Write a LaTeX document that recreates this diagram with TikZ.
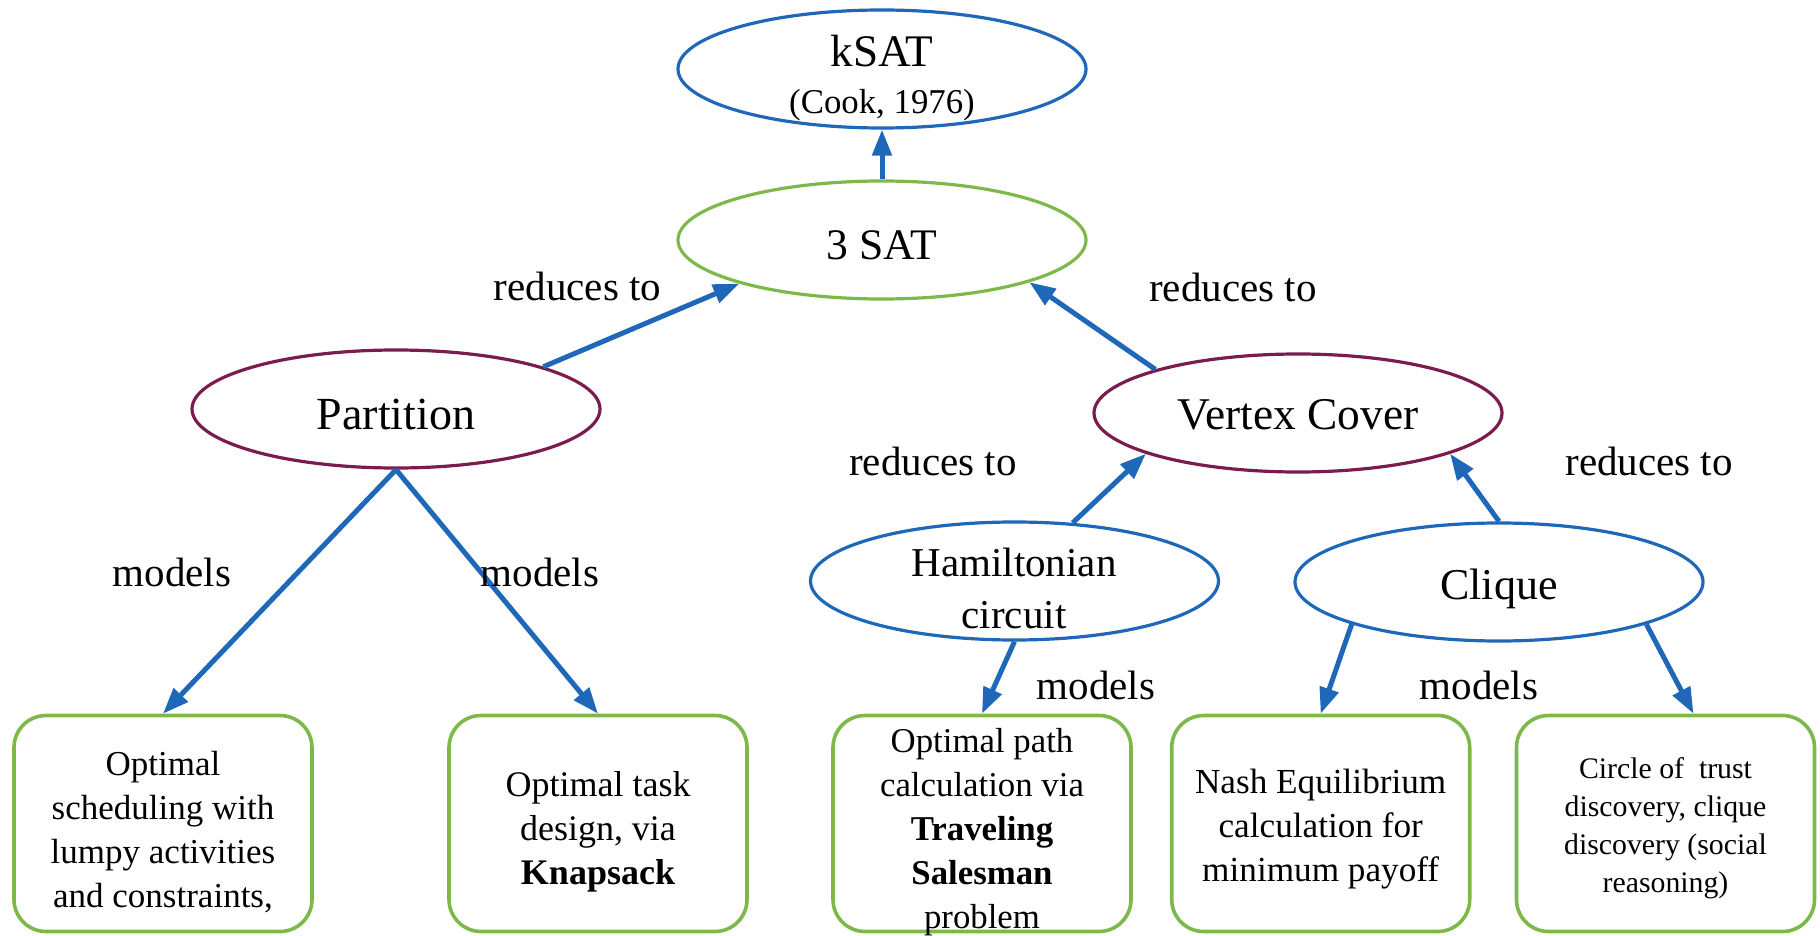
\documentclass[tikz,border=0pt]{standalone}
\usepackage{fontspec}
\setmainfont{Liberation Serif}
\usetikzlibrary{shapes.geometric,arrows.meta,calc}
\definecolor{cblue}{RGB}{31,103,185}
\definecolor{cgreen}{RGB}{124,184,74}
\definecolor{cmaroon}{RGB}{122,28,78}
\begin{document}
\begin{tikzpicture}[x=0.5pt,y=-0.5pt,
  ell/.style={ellipse,draw,line width=1.6pt,inner sep=0pt,minimum width=204pt,minimum height=59pt},
  etext/.style={align=center,inner sep=0pt},
  box/.style={draw=cgreen,line width=1.8pt,rounded corners=16pt,minimum width=149pt,minimum height=108pt,inner sep=0pt},
  btext/.style={align=center,inner sep=0pt,font=\fontsize{17.5}{22}\selectfont},
  lbl/.style={inner sep=0pt,font=\fontsize{20.5}{24}\selectfont},
  arr/.style={draw=cblue,line width=2.5pt,-{Triangle[length=13pt,width=9.5pt]}}]
\useasboundingbox (0,0) rectangle (1820,936);

% ellipses
\node[ell,draw=cblue] (ksat) at (882,69) {};
\node[etext,font=\fontsize{17.4}{23.5}\selectfont] (ksatt) at (882,78) {{\fontsize{22.6}{23.5}\selectfont kSAT}\\(Cook, 1976)};
\node[ell,draw=cgreen] (sat3) at (882,240) {};
\node[etext,font=\fontsize{21.8}{26}\selectfont] (sat3t) at (882,245) {3 SAT};
\node[ell,draw=cmaroon] (part) at (396,409) {};
\node[etext,font=\fontsize{23}{27}\selectfont] (partt) at (396,414) {Partition};
\node[ell,draw=cmaroon] (vc) at (1298,413) {};
\node[etext,font=\fontsize{22.7}{27}\selectfont] (vct) at (1298,415) {Vertex Cover};
\node[ell,draw=cblue] (ham) at (1014.5,581) {};
\node[etext,font=\fontsize{20.5}{26}\selectfont] (hamt) at (1014,588) {Hamiltonian\\circuit};
\node[ell,draw=cblue] (clique) at (1499,582) {};
\node[etext,font=\fontsize{22}{26}\selectfont] (cliquet) at (1499,589) {Clique};

% boxes
\node[box] (b1) at (163,823.5) {};
\node[btext] (b1t) at (163,832) {Optimal\\scheduling with\\lumpy activities\\and constraints,};
\node[box] (b2) at (598,823.5) {};
\node[btext,font=\fontsize{18}{22}\selectfont] (b2t) at (598,832) {Optimal task\\design, via\\\textbf{Knapsack}};
\node[box] (b3) at (982,823.5) {};
\node[btext,font=\fontsize{17.4}{22}\selectfont] (b3t) at (982,832) {Optimal path\\calculation via\\\textbf{Traveling}\\\textbf{Salesman}\\problem};
\node[box] (b4) at (1320.7,823.5) {};
\node[btext,font=\fontsize{17.6}{22}\selectfont] (b4t) at (1320.7,829) {Nash Equilibrium\\calculation for\\minimum payoff};
\node[box] (b5) at (1665.5,823.5) {};
\node[btext,font=\fontsize{14.9}{19}\selectfont] (b5t) at (1665.5,828.5) {Circle of~ trust\\discovery, clique\\discovery (social\\reasoning)};

% connectors
\draw[arr] (sat3.north) -- (ksat.south);
\draw[arr] (part.16) -- (sat3.197);
\draw[arr] (vc.163) -- (sat3.-16);
\draw[arr] (ham.45) -- (vc.195.5);
\draw[arr] (clique.north) -- (vc.-15);
\draw[arr] (part.south) -- (b1.north);
\draw[arr] (part.south) -- (b2.north);
\draw[arr] (ham.south) -- (b3.north);
\draw[arr] (clique.196) -- (b4.north);
\draw[arr] (clique.-16) -- ($(b5.north)+(28,0)$);

% labels
\node[lbl] (r1) at (577.5,286) {reduces to};
\node[lbl] (r2) at (1233,287) {reduces to};
\node[lbl] (r3) at (933,461) {reduces to};
\node[lbl] (r4) at (1649,461) {reduces to};
\node[lbl] (m1) at (172,572) {models};
\node[lbl] (m2) at (540,572) {models};
\node[lbl] (m3) at (1096,685) {models};
\node[lbl] (m4) at (1479,685) {models};
\end{tikzpicture}
\end{document}
